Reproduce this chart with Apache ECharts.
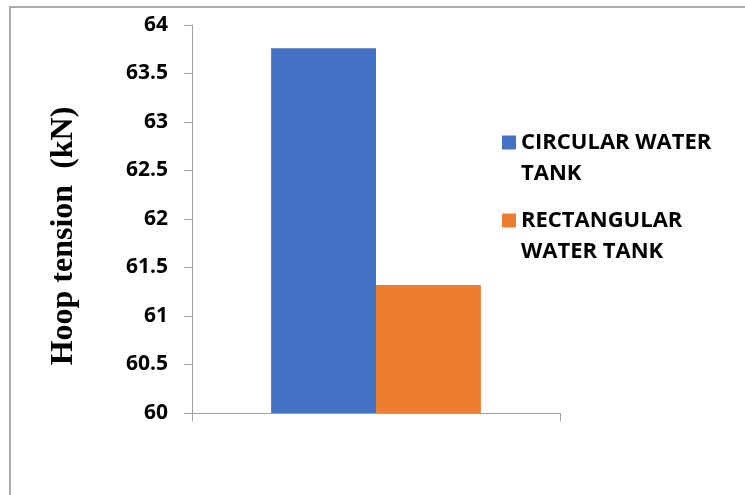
<!DOCTYPE html>
<html>
<head>
<meta charset="utf-8">
<script src="https://cdn.jsdelivr.net/npm/echarts@6/dist/echarts.min.js"></script>
<style>
  html, body { margin: 0; padding: 0; background: #fff; }
  #chart { width: 745px; height: 495px; }
</style>
</head>
<body>
<div id="chart"></div>
<script>
// Hoop tension comparison of the two tank shapes
const categories = [''];
const seriesNames = ['CIRCULAR WATER TANK', 'RECTANGULAR WATER TANK'];
// leading blank line keeps the first text line level with the swatch
const legendLabels = ['\nCIRCULAR WATER\nTANK', '\nRECTANGULAR\nWATER TANK'];
const circularValues = [63.76];
const rectangularValues = [61.32];
const seriesColors = ['#4472C4', '#ED7D31'];
const yMin = 60, yMax = 64, yStep = 0.5;

const chart = echarts.init(document.getElementById('chart'), null, { renderer: 'canvas' });

const labelFont = '"Open Sans", "Noto Sans", sans-serif';

function legendFor(i, top) {
  return {
    orient: 'vertical',
    left: 497,
    top: top,
    itemWidth: 14,
    itemHeight: 14,
    icon: 'rect',
    data: [seriesNames[i]],
    formatter: function () { return legendLabels[i]; },
    textStyle: {
      fontFamily: labelFont,
      fontWeight: 'bold',
      fontSize: 22,
      color: '#000',
      lineHeight: 31
    }
  };
}

chart.setOption({
  animation: false,
  backgroundColor: '#fff',
  graphic: [{
    type: 'polyline',
    shape: { points: [[10, 500], [10, 7], [750, 7]] },
    style: { stroke: '#ababab', lineWidth: 2, fill: null },
    silent: true
  }],
  legend: [legendFor(0, 91), legendFor(1, 169)],
  grid: { left: 192, right: 185, top: 25, bottom: 82, containLabel: false },
  xAxis: {
    type: 'category',
    data: categories,
    axisLine: { show: true, lineStyle: { color: '#a0a0a0', width: 1 } },
    axisTick: { show: true, length: 8, lineStyle: { color: '#a0a0a0' } },
    axisLabel: { show: false },
    splitLine: { show: false }
  },
  yAxis: {
    type: 'value',
    min: yMin,
    max: yMax,
    interval: yStep,
    name: 'Hoop tension  (kN)',
    nameLocation: 'middle',
    nameRotate: 90,
    nameGap: 112,
    nameTextStyle: {
      fontFamily: '"Liberation Serif", "DejaVu Serif", serif',
      fontWeight: 'bold',
      fontSize: 32,
      color: '#000',
      padding: [0, 34, 0, 0]
    },
    axisLine: { show: true, lineStyle: { color: '#a0a0a0', width: 1 } },
    axisTick: { show: true, length: 8, lineStyle: { color: '#a0a0a0' } },
    axisLabel: {
      margin: 24,
      fontFamily: labelFont,
      fontWeight: 'bold',
      fontSize: 21,
      color: '#000'
    },
    splitLine: { show: false }
  },
  series: [
    {
      name: seriesNames[0],
      type: 'bar',
      data: circularValues,
      barGap: '0%',
      barCategoryGap: '43%',
      itemStyle: { color: seriesColors[0] }
    },
    {
      name: seriesNames[1],
      type: 'bar',
      data: rectangularValues,
      barGap: '0%',
      barCategoryGap: '43%',
      itemStyle: { color: seriesColors[1] }
    }
  ]
});
</script>
</body>
</html>
